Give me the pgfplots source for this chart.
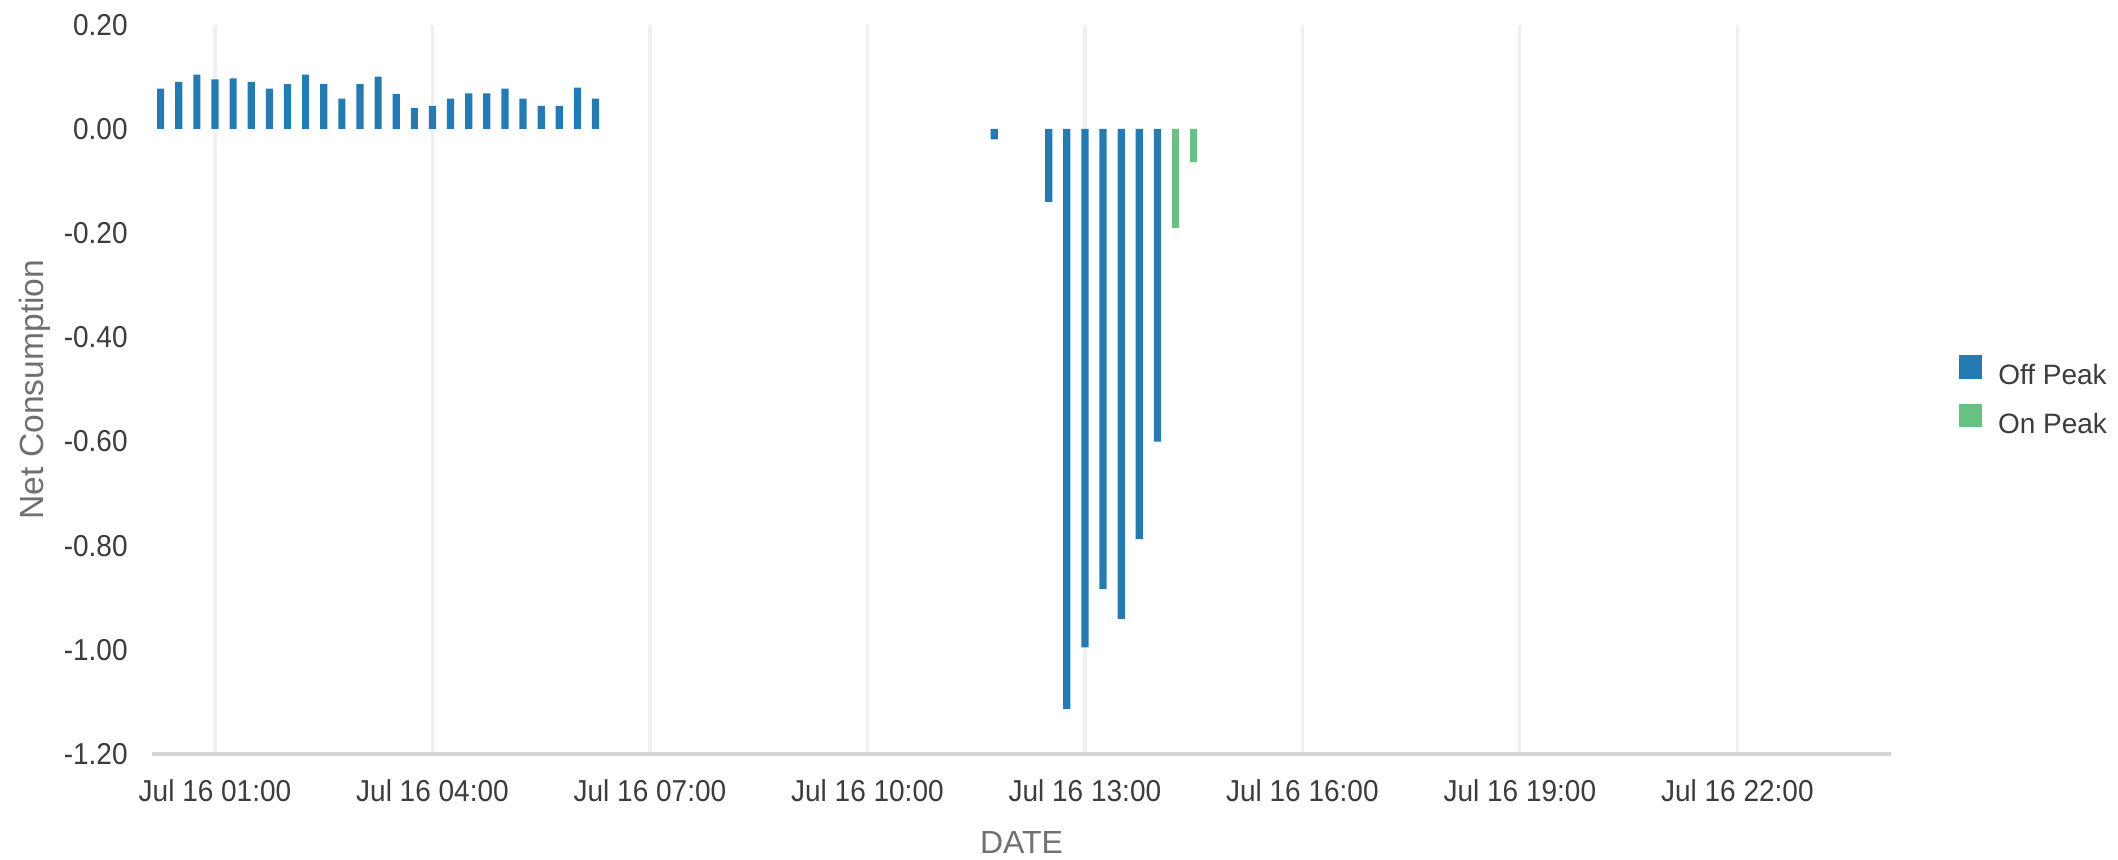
\documentclass[border=0pt]{standalone}
\usepackage{pgfplots}
\pgfplotsset{compat=1.18}
\usepackage{fontspec}
\setmainfont{Liberation Sans}
\definecolor{offpeak}{HTML}{237BB1}
\definecolor{onpeak}{HTML}{68C182}
\definecolor{tickc}{HTML}{3C3C3C}
\definecolor{titlec}{HTML}{707070}
\definecolor{gridc}{HTML}{EEF0F3}
\definecolor{axisc}{HTML}{D4D4D4}
\begin{document}
\begin{tikzpicture}
\useasboundingbox (0,0) rectangle (1059pt,429.5pt);
\begin{axis}[
  at={(76pt,52.35pt)}, anchor=south west,
  scale only axis, width=869.5pt, height=364.85pt,
  xmin=0.131, xmax=24.12, ymin=-1.2, ymax=0.2,
  axis x line*=bottom, axis y line*=left,
  x axis line style={draw=axisc, line width=2pt, -},
  y axis line style={draw=none},
  major tick length=0pt,
  xtick={1,4,7,10,13,16,19,22},
  xticklabels={Jul 16 01:00,Jul 16 04:00,Jul 16 07:00,Jul 16 10:00,Jul 16 13:00,Jul 16 16:00,Jul 16 19:00,Jul 16 22:00},
  ytick={-1.2,-1,-0.8,-0.6,-0.4,-0.2,0,0.2},
  /pgf/number format/fixed, /pgf/number format/fixed zerofill, /pgf/number format/precision=2,
  /pgf/number format/assume math mode=true,
  y tick label style={anchor=east, inner sep=0pt, font=\fontsize{14}{16}\selectfont, text=tickc, yscale=1.08},
  x tick label style={anchor=north, inner sep=0pt, font=\fontsize{14}{16}\selectfont, text=tickc, yscale=1.08},
  yticklabel shift=12pt,
  xticklabel shift=12.3pt,
  xmajorgrids, grid style={draw=gridc, line width=1.6pt},
  xlabel={DATE}, ylabel={Net Consumption},
  xlabel style={at={(axis description cs:0.5,-0.1358)}, anchor=base, font=\fontsize{16}{19}\selectfont, text=titlec},
  ylabel style={at={(axis description cs:-0.0625,0.5)}, anchor=base, font=\fontsize{16.8}{19}\selectfont, text=titlec},
  ybar, bar width=3.6pt, bar shift=0pt,
  legend style={at={(1.0391,0.547)}, anchor=north west, draw=none, fill=none, inner sep=0pt, outer sep=0pt,
    font=\fontsize{14}{16}\selectfont, text=tickc, row sep=8pt,
    nodes={inner sep=0pt}},
  legend image code/.code={\fill[#1] (0pt,-1.3pt) rectangle (11.7pt,10.4pt); \path (19.5pt,0pt);},
]
\addplot[fill=offpeak, draw=none] coordinates {
(0.25,0.077) (0.50,0.090) (0.75,0.104) (1.00,0.095) (1.25,0.097)
(1.50,0.090) (1.75,0.077) (2.00,0.086) (2.25,0.104) (2.50,0.086)
(2.75,0.058) (3.00,0.086) (3.25,0.100) (3.50,0.067) (3.75,0.040)
(4.00,0.044) (4.25,0.058) (4.50,0.068) (4.75,0.068) (5.00,0.077)
(5.25,0.058) (5.50,0.044) (5.75,0.044) (6.00,0.079) (6.25,0.058)
(11.75,-0.020) (12.50,-0.140) (12.75,-1.113) (13.00,-0.995) (13.25,-0.883)
(13.50,-0.940) (13.75,-0.787) (14.00,-0.600)
};
\addlegendentry{Off Peak}
\addplot[fill=onpeak, draw=none] coordinates {
(14.25,-0.190) (14.50,-0.064)
};
\addlegendentry{On Peak}
\end{axis}
\end{tikzpicture}
\end{document}
